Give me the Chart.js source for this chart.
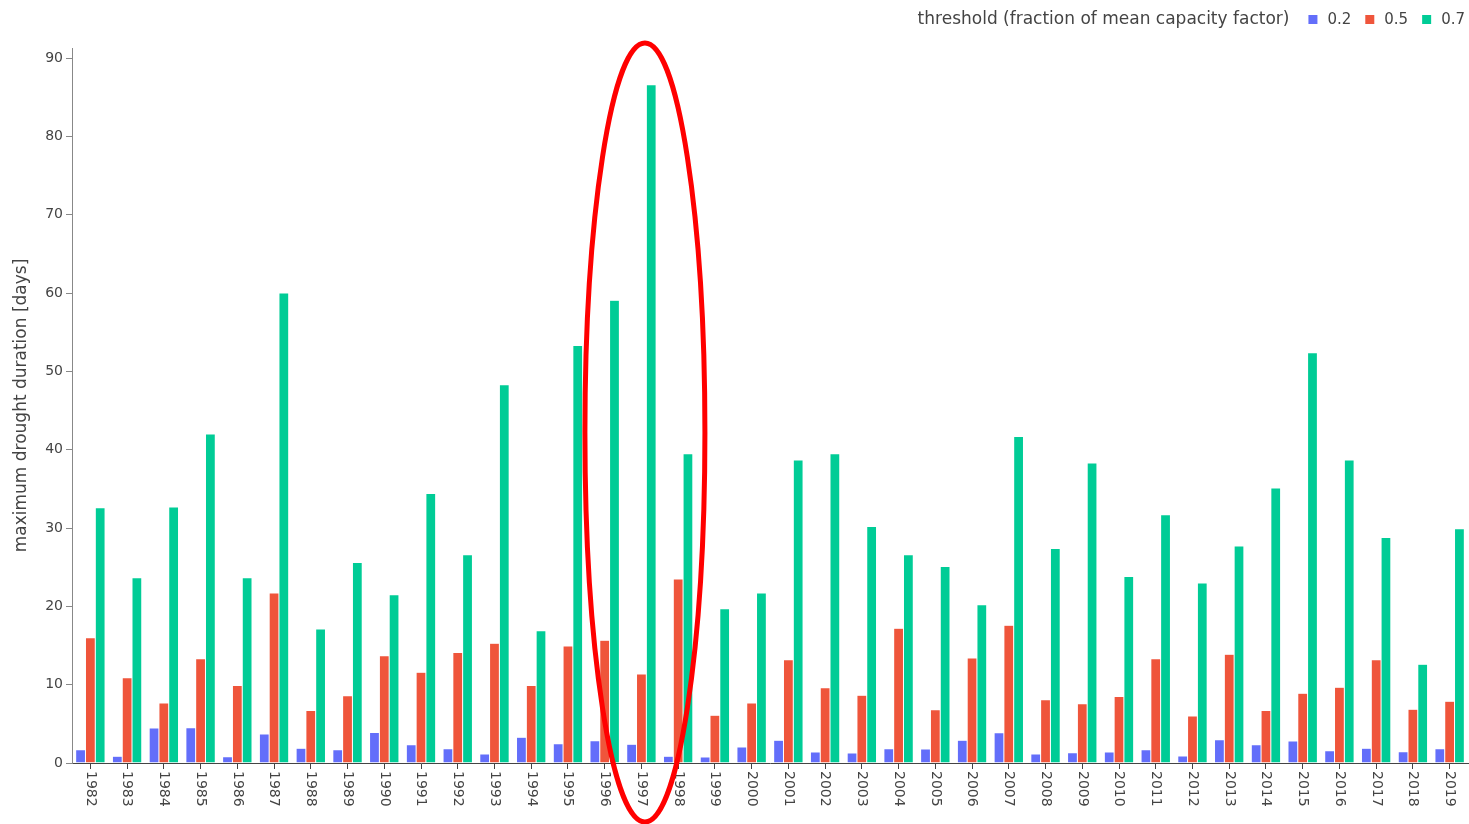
<!DOCTYPE html>
<html><head><meta charset="utf-8">
<script src="https://cdn.jsdelivr.net/npm/chart.js@4/dist/chart.umd.min.js"></script>
<style>html,body{margin:0;padding:0;background:#fff;overflow:hidden}canvas{display:block}</style>
</head><body>
<canvas id="c" width="1469" height="824"></canvas>
<script>
const years = ['1982','1983','1984','1985','1986','1987','1988','1989','1990','1991','1992','1993','1994','1995','1996','1997','1998','1999','2000','2001','2002','2003','2004','2005','2006','2007','2008','2009','2010','2011','2012','2013','2014','2015','2016','2017','2018','2019'];
const t02 = [1.7,0.85,4.47,4.5,0.8,3.7,1.87,1.7,3.9,2.34,1.83,1.15,3.28,2.47,2.85,2.38,0.85,0.77,2.04,2.9,1.4,1.28,1.83,1.79,2.9,3.87,1.15,1.32,1.4,1.7,0.9,2.98,2.34,2.81,1.57,1.87,1.45,1.83];
const t05 = [16.0,10.9,7.66,13.3,9.9,21.7,6.7,8.6,13.7,11.6,14.1,15.3,9.9,14.94,15.66,11.36,23.5,6.09,7.66,13.2,9.6,8.64,17.2,6.8,13.4,17.6,8.09,7.57,8.5,13.3,6.0,13.9,6.7,8.9,9.66,13.2,6.85,7.87];
const t07 = [32.6,23.65,32.7,42.0,23.65,60.0,17.1,25.6,21.5,34.4,26.6,48.3,16.9,53.3,59.1,86.6,39.5,19.7,21.7,38.7,39.5,30.2,26.6,25.1,20.2,41.7,27.4,38.3,23.8,31.7,23.0,27.7,35.1,52.4,38.7,28.8,12.6,29.9];
const seriesLabels = ['0.2','0.5','0.7'];
const legendTitle = 'threshold (fraction of mean capacity factor)';
const yTitle = 'maximum drought duration [days]';
const yTicks = [0,10,20,30,40,50,60,70,80,90];
const highlightYear = '1997';

const colors = ['#636efa','#ef553b','#00cc96'];
const FONT = '"DejaVu Sans", Verdana, sans-serif';

const overlay = {
  id: 'overlay',
  afterDraw(chart) {
    const ctx = chart.ctx;
    const xs = chart.scales.x;
    // rotated x tick labels (clockwise)
    ctx.save();
    ctx.font = '14px ' + FONT;
    ctx.fillStyle = '#444';
    ctx.textAlign = 'left';
    ctx.textBaseline = 'middle';
    years.forEach((y, i) => {
      const px = xs.getPixelForValue(i);
      ctx.save();
      ctx.translate(px, xs.top + 8);
      ctx.rotate(Math.PI / 2);
      ctx.fillText(y, 0, 0);
      ctx.restore();
    });
    ctx.restore();

    // legend (right-aligned)
    ctx.save();
    ctx.textBaseline = 'middle';
    ctx.textAlign = 'left';
    const ly = 20;
    const titleFont = '17px ' + FONT, itemFont = '15px ' + FONT;
    ctx.font = titleFont;
    const tw = ctx.measureText(legendTitle).width;
    ctx.font = itemFont;
    let total = tw + 19;
    chart.data.datasets.forEach((ds, i) => {
      total += 19 + ctx.measureText(ds.label).width + (i < chart.data.datasets.length - 1 ? 14 : 0);
    });
    let x = 1465 - total;
    ctx.font = titleFont;
    ctx.fillStyle = '#444';
    ctx.fillText(legendTitle, x, ly);
    x += tw + 19;
    ctx.font = itemFont;
    chart.data.datasets.forEach((ds, i) => {
      ctx.fillStyle = ds.backgroundColor;
      ctx.fillRect(x, ly - 5, 9, 9);
      x += 19;
      ctx.fillStyle = '#444';
      ctx.fillText(ds.label, x, ly);
      x += ctx.measureText(ds.label).width + 14;
    });
    ctx.restore();

    // highlight ellipse annotation
    const idx = years.indexOf(highlightYear);
    const cx = xs.getPixelForValue(idx) + 3.5;
    ctx.save();
    ctx.strokeStyle = '#ff0000';
    ctx.lineWidth = 5;
    ctx.beginPath();
    ctx.ellipse(cx, 432.5, 60, 389.5, 0, 0, Math.PI * 2);
    ctx.stroke();
    ctx.restore();
  }
};

new Chart(document.getElementById('c').getContext('2d'), {
  type: 'bar',
  data: {
    labels: years,
    datasets: [t02, t05, t07].map((d, i) => ({
      label: seriesLabels[i],
      data: d,
      backgroundColor: colors[i],
      borderColor: 'rgba(255,255,255,0.7)',
      borderWidth: 0.5,
      categoryPercentage: 0.8,
      barPercentage: 1
    }))
  },
  options: {
    responsive: false,
    animation: false,
    devicePixelRatio: 1,
    layout: { padding: { top: 48, right: 1, bottom: 55, left: 0 } },
    plugins: { legend: { display: false }, tooltip: { enabled: false } },
    scales: {
      x: {
        grid: { offset: false, drawOnChartArea: false, drawTicks: true, tickLength: 6, color: '#444' },
        border: { display: true, color: '#444', width: 1 },
        ticks: { display: false }
      },
      y: {
        min: 0,
        max: 91.3,
        afterBuildTicks: s => { s.ticks = yTicks.map(v => ({ value: v })); },
        afterFit: s => { s.width = 72; },
        grid: { drawOnChartArea: false, drawTicks: true, tickLength: 6, color: '#888' },
        border: { display: true, color: '#888', width: 1 },
        ticks: { font: { family: FONT, size: 14 }, color: '#444', padding: 3 },
        title: { display: true, text: yTitle, font: { family: FONT, size: 17 }, color: '#444', padding: { top: 11, bottom: 0 } }
      }
    }
  },
  plugins: [overlay]
});
</script>
</body></html>
